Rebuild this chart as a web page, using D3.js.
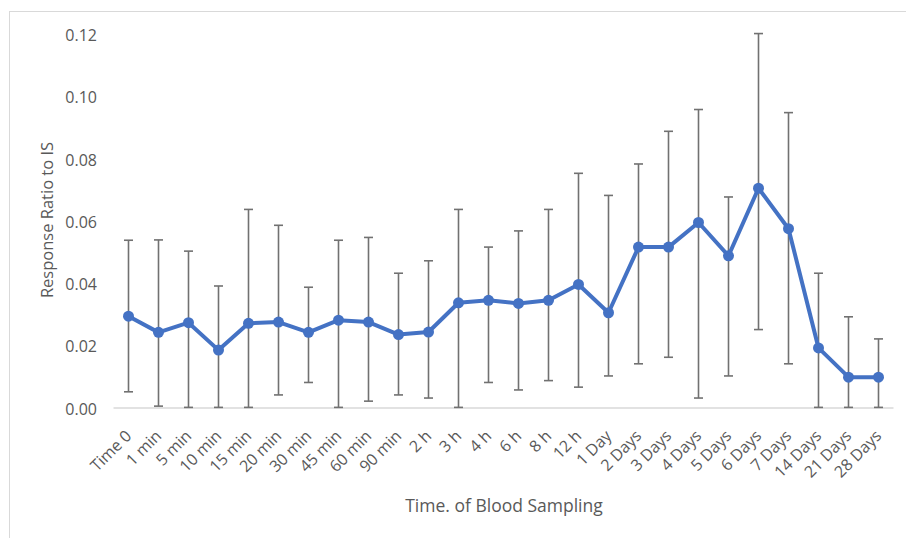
<!DOCTYPE html>
<html>
<head>
<meta charset="utf-8">
<script src="https://cdn.jsdelivr.net/npm/d3@7"></script>
<style>
  html, body { margin: 0; padding: 0; background: #fff; }
  svg { display: block; font-family: "Open Sans", sans-serif; }
</style>
</head>
<body>
<svg id="chart" width="906" height="538"></svg>
<script>
// Sampling time points
const categories = ["Time 0", "1 min", "5 min", "10 min", "15 min", "20 min", "30 min", "45 min",
  "60 min", "90 min", "2 h", "3 h", "4 h", "6 h", "8 h", "12 h", "1 Day", "2 Days", "3 Days",
  "4 Days", "5 Days", "6 Days", "7 Days", "14 Days", "21 Days", "28 Days"];

// Mean response ratio to internal standard
const means = [0.0295, 0.0243, 0.0274, 0.0186, 0.0272, 0.0276, 0.0243, 0.0282,
  0.0276, 0.0236, 0.0244, 0.0338, 0.0346, 0.0336, 0.0346, 0.0397, 0.0306, 0.0517, 0.0517,
  0.0596, 0.0489, 0.0706, 0.0576, 0.0193, 0.0099, 0.0099];

// Error bar ends (upper / lower)
const upper = [0.0539, 0.0540, 0.0504, 0.0392, 0.0638, 0.0587, 0.0388, 0.0539,
  0.0548, 0.0433, 0.0473, 0.0638, 0.0517, 0.0569, 0.0638, 0.0754, 0.0683, 0.0784, 0.0889,
  0.0959, 0.0678, 0.1203, 0.0949, 0.0433, 0.0293, 0.0222];
const lower = [0.0052, 0.0006, 0.0002, 0.0002, 0.0002, 0.0042, 0.0082, 0.0002,
  0.0022, 0.0042, 0.0032, 0.0002, 0.0082, 0.0058, 0.0088, 0.0067, 0.0103, 0.0142, 0.0163,
  0.0032, 0.0103, 0.0252, 0.0142, 0.0002, 0.0002, 0.0002];

const yTicks = [0, 0.02, 0.04, 0.06, 0.08, 0.10, 0.12];

const data = categories.map((c, i) => ({ c, m: means[i], hi: upper[i], lo: lower[i] }));

const svg = d3.select("#chart");
const textColor = "#595959";

// Chart area frame
svg.append("rect")
  .attr("x", 9.5).attr("y", 11.5)
  .attr("width", 1000).attr("height", 1000)
  .attr("fill", "none").attr("stroke", "#d9d9d9").attr("stroke-width", 1);

const x = d3.scaleBand().domain(categories).range([113.5, 893.5]).padding(0);
const cx = c => x(c) + x.bandwidth() / 2;
const y = d3.scaleLinear().domain([0, 0.12]).range([408, 34.5]);

// Y axis labels (no axis line, no gridlines)
const yAxis = d3.axisLeft(y).tickValues(yTicks).tickFormat(d3.format(".2f")).tickSize(0).tickPadding(0);
const yg = svg.append("g").attr("transform", "translate(97,1)").call(yAxis);
yg.select(".domain").remove();
yg.selectAll("text").attr("fill", textColor).style("font-size", "16px")
  .style("font-family", "'Open Sans', sans-serif");

// X axis baseline and rotated labels
const xAxis = d3.axisBottom(x).tickSize(0).tickPadding(0);
const xg = svg.append("g").attr("transform", `translate(0,${y(0)})`).call(xAxis);
xg.select(".domain").attr("stroke", "#d9d9d9").attr("stroke-width", 1.5)
  .attr("d", `M113.5,0H893.5`);
xg.selectAll("text")
  .attr("fill", textColor)
  .style("font-size", "16px")
  .style("font-family", "'Open Sans', sans-serif")
  .attr("text-anchor", "end")
  .attr("dy", "0.35em")
  .attr("y", 0)
  .attr("x", 0)
  .attr("transform", "translate(0,25) rotate(-45)");

// Error bars
const eb = svg.append("g").attr("stroke", "#717171").attr("stroke-width", 1.6).attr("fill", "none");
data.forEach(d => {
  const px = cx(d.c);
  eb.append("line").attr("x1", px).attr("x2", px).attr("y1", y(d.hi)).attr("y2", y(d.lo));
  eb.append("line").attr("x1", px - 4.5).attr("x2", px + 4.5).attr("y1", y(d.hi)).attr("y2", y(d.hi));
  eb.append("line").attr("x1", px - 4.5).attr("x2", px + 4.5).attr("y1", y(d.lo)).attr("y2", y(d.lo));
});

// Mean line with markers
const line = d3.line().x(d => cx(d.c)).y(d => y(d.m));
svg.append("path").datum(data)
  .attr("d", line)
  .attr("fill", "none")
  .attr("stroke", "#4472C4")
  .attr("stroke-width", 4)
  .attr("stroke-linejoin", "round");
svg.append("g").selectAll("circle").data(data).join("circle")
  .attr("cx", d => cx(d.c)).attr("cy", d => y(d.m)).attr("r", 5.5)
  .attr("fill", "#4472C4");

// Axis titles
svg.append("text")
  .attr("x", 504).attr("y", 512)
  .attr("text-anchor", "middle")
  .attr("fill", textColor).style("font-size", "17.5px")
  .text("Time. of Blood Sampling");
svg.append("text")
  .attr("transform", "translate(53,220) rotate(-90)")
  .attr("text-anchor", "middle")
  .attr("fill", textColor).style("font-size", "16.5px")
  .text("Response Ratio to IS");
</script>
</body>
</html>
